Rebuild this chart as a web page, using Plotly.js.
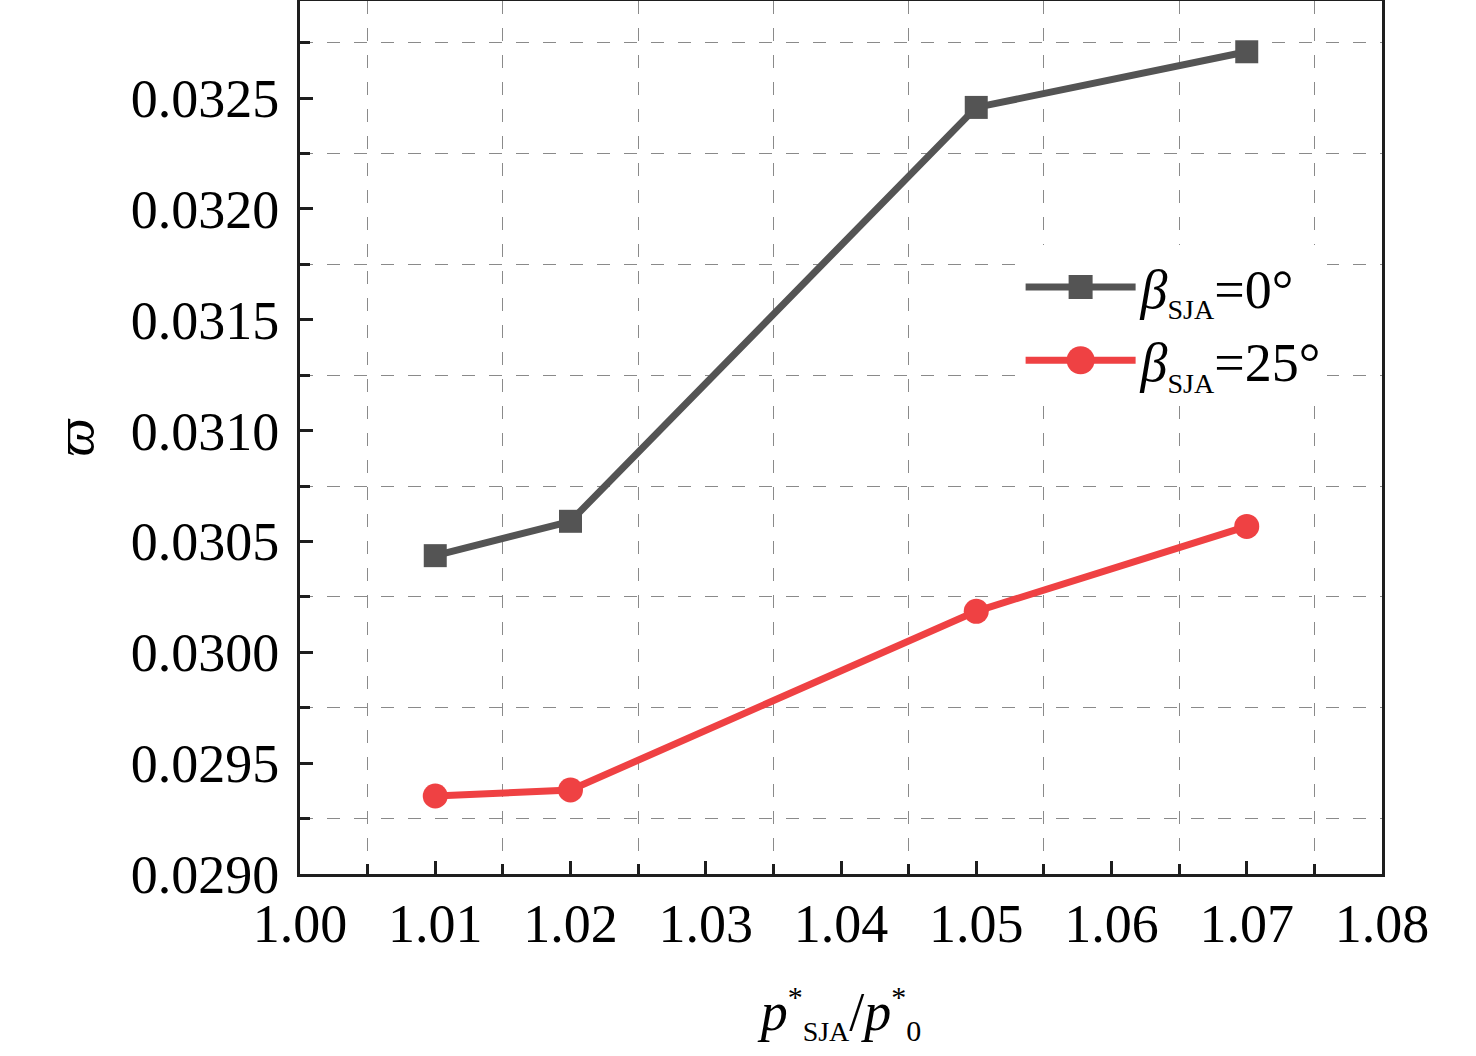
<!DOCTYPE html>
<html>
<head>
<meta charset="utf-8">
<script src="https://cdn.plot.ly/plotly-3.0.1.min.js"></script>
<style>
  html, body { margin: 0; padding: 0; background: #fff; }
  #chart { width: 1476px; height: 1056px; }
</style>
</head>
<body>
<div id="chart"></div>
<script>
// pressure ratio p*_SJA / p*_0
var pressureRatio = [1.01, 1.02, 1.05, 1.07];

// varpi for the two jet angles
var beta0 = [0.030436, 0.030591, 0.032458, 0.032709];
var beta25 = [0.029352, 0.029379, 0.030185, 0.030568];

var seriesNames = [
  '<i>β</i><sub><span style="font-size:28px">SJA</span></sub>=0°',
  '<i>β</i><sub><span style="font-size:28px">SJA</span></sub>=25°'
];

var serif = 'Liberation Serif, Times New Roman, serif';
var axisColor = '#1e1e1e';
var gridColor = '#8a8a8a';

var traces = [
  {
    x: pressureRatio, y: beta0, name: seriesNames[0],
    type: 'scatter', mode: 'lines+markers',
    line: {color: '#545454', width: 7},
    marker: {symbol: 'square', size: 23, color: '#545454'}
  },
  {
    x: pressureRatio, y: beta25, name: seriesNames[1],
    type: 'scatter', mode: 'lines+markers',
    line: {color: '#ef4143', width: 7},
    marker: {symbol: 'circle', size: 25, color: '#ef4143'}
  }
];

var layout = {
  width: 1476,
  height: 1056,
  margin: {l: 300, r: 94, t: 1, b: 182},
  paper_bgcolor: '#fff',
  plot_bgcolor: '#fff',
  font: {family: serif, size: 54, color: '#000'},
  showlegend: true,
  legend: {
    x: 0.666, y: 0.72, xanchor: 'left', yanchor: 'top',
    bgcolor: '#fff', borderwidth: 0,
    itemwidth: 110,
    font: {family: serif, size: 54, color: '#000'}
  },
  xaxis: {
    range: [1.0, 1.08],
    dtick: 0.01, tick0: 1.0,
    tickformat: '.2f',
    ticks: 'inside', ticklen: 13, tickwidth: 3, tickcolor: axisColor,
    showline: true, linewidth: 3, linecolor: axisColor, mirror: true,
    showgrid: false, zeroline: false,
    minor: {
      dtick: 0.005, tick0: 1.0,
      ticks: 'inside', ticklen: 10, tickwidth: 3, tickcolor: axisColor,
      showgrid: true, gridcolor: gridColor, gridwidth: 1, griddash: '13px,14px'
    },
    tickfont: {family: serif, size: 54},
    title: {
      text: '<i>p</i><sup><span style="font-size:30px">*</span></sup><sub><span style="font-size:28px">SJA</span></sub>/<i>p</i><sup><span style="font-size:30px">*</span></sup><sub><span style="font-size:30px">0</span></sub>',
      font: {family: serif, size: 54},
      standoff: 40
    }
  },
  yaxis: {
    range: [0.029, 0.032938],
    dtick: 0.0005, tick0: 0.029,
    tickformat: '.4f',
    ticks: 'inside', ticklen: 13, tickwidth: 3, tickcolor: axisColor,
    ticklabelstandoff: 7,
    showline: true, linewidth: 3, linecolor: axisColor, mirror: true,
    showgrid: false, zeroline: false,
    minor: {
      dtick: 0.00025, tick0: 0.029,
      ticks: 'inside', ticklen: 10, tickwidth: 3, tickcolor: axisColor,
      showgrid: true, gridcolor: gridColor, gridwidth: 1, griddash: '13px,14px'
    },
    tickfont: {family: serif, size: 54},
    title: {
      text: '<i>ϖ</i>',
      font: {family: serif, size: 54},
      standoff: 20
    }
  }
};

// legend symbols are capped in size by plotly, enlarge them to match the plot markers
var legendSymbolSize = [24, 28];

Plotly.newPlot('chart', traces, layout, {displayModeBar: false, staticPlot: true}).then(function (gd) {
  gd.querySelectorAll('.legend .traces').forEach(function (item, i) {
    item.querySelectorAll('.legendpoints path.scatterpts').forEach(function (pt) {
      var w = pt.getBBox().width;
      if (!w) return;
      var t = pt.getAttribute('transform') || '';
      pt.setAttribute('transform', t + ' scale(' + (legendSymbolSize[i] / w).toFixed(3) + ')');
    });
  });
});
</script>
</body>
</html>
